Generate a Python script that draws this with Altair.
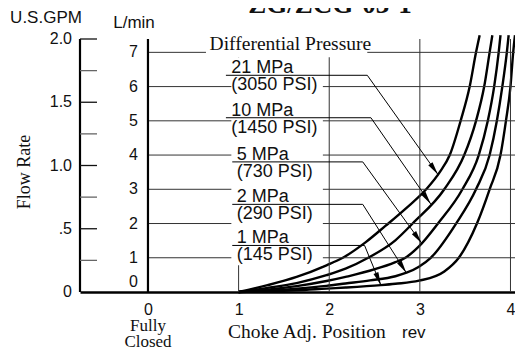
import math
import numpy as np
import pandas as pd
import altair as alt

# ---------------- data ----------------
rev_21 = [1.0, 1.32, 1.64, 1.97, 2.15, 2.4, 2.62, 2.85, 3.07, 3.22, 3.33, 3.45, 3.55, 3.62, 3.66]
flow_21 = [0, 0.2, 0.44, 0.78, 1.0, 1.45, 1.93, 2.45, 3.0, 3.5, 4.0, 5.0, 6.0, 7.0, 7.5]

rev_10 = [1.0, 1.32, 1.64, 1.97, 2.18, 2.43, 2.73, 2.92, 3.27, 3.49, 3.62, 3.71, 3.77, 3.80]
flow_10 = [0, 0.12, 0.26, 0.49, 0.68, 1, 1.51, 2, 3, 4, 5, 6, 7, 7.5]

rev_5 = [1.0, 1.32, 1.64, 1.97, 2.18, 2.73, 2.84, 2.99, 3.2, 3.47, 3.65, 3.75, 3.82, 3.87, 3.89]
flow_5 = [0, 0.07, 0.17, 0.32, 0.44, 0.87, 1, 1.33, 2, 3, 4, 5, 6, 7, 7.5]

rev_2 = [1.0, 1.32, 1.64, 1.97, 2.18, 2.45, 2.73, 2.86, 2.99, 3.12, 3.40, 3.62, 3.77, 3.85, 3.91, 3.96, 3.98]
flow_2 = [0, 0.04, 0.1, 0.18, 0.25, 0.34, 0.46, 0.57, 0.74, 1, 2, 3, 4, 5, 6, 7, 7.5]

rev_1 = [1.0, 1.32, 1.64, 1.97, 2.18, 2.57, 2.73, 2.99, 3.27, 3.43, 3.63, 3.77, 3.89, 3.95, 4.0, 4.03, 4.05]
flow_1 = [0, 0.02, 0.05, 0.1, 0.13, 0.2, 0.24, 0.33, 0.6, 1, 2, 3, 4, 5, 6, 7, 7.5]

pressure_mpa = ["21 MPa", "10 MPa", "5 MPa", "2 MPa", "1 MPa"]
pressure_psi = ["(3050 PSI)", "(1450 PSI)", "(730 PSI)", "(290 PSI)", "(145 PSI)"]
curve_revs = [rev_21, rev_10, rev_5, rev_2, rev_1]
curve_flows = [flow_21, flow_10, flow_5, flow_2, flow_1]

lmin_ticks = [0, 1, 2, 3, 4, 5, 6, 7]
gpm_labels = [0, 0.5, 1.0, 1.5, 2.0]
gpm_label_text = ["0", ".5", "1.0", "1.5", "2.0"]
gpm_ticks = [0.25, 0.5, 0.75, 1.0, 1.25, 1.5, 1.75, 2.0]
rev_ticks = [0, 1, 2, 3, 4]

# ---------------- layout ----------------
W, H = 435, 253
X_DOM = [-0.75, 4.05]
Y_DOM = [0, 7.39]
GPM_TOP = 2.0                       # the printed U.S.GPM scale reaches 2.0 at the top of the frame
GPM_TO_AXIS = Y_DOM[1] / GPM_TOP
SANS = "Liberation Sans"
SERIF = "Liberation Serif"
PX_PER_REV = W / (X_DOM[1] - X_DOM[0])
PX_PER_L = H / (Y_DOM[1] - Y_DOM[0])

# annotation placement (data units)
label_y = [6.33, 5.09, 3.80, 2.56, 1.36]        # underline level of each label pair
label_x = [0.92, 0.92, 0.98, 0.98, 0.98]        # left edge of label text
underline_x = [0.86, 0.86, 0.93, 0.93, 0.93]
leader_x = [2.42, 2.46, 2.37, 2.37, 2.39]       # where leader leaves the underline
tip_rev = [3.20, 3.12, 3.02, 2.85, 2.57]        # where the arrow touches its curve

xs = alt.Scale(domain=X_DOM, nice=False, zero=False, padding=0)
ys = alt.Scale(domain=Y_DOM, nice=False, zero=False, padding=0)

# ---------------- tables ----------------
rows = []
for name, rv, fl in zip(pressure_mpa, curve_revs, curve_flows):
    for i, (r, f) in enumerate(zip(rv, fl)):
        rows.append({"series": name, "rev": r, "flow": f, "i": i})
curves_df = pd.DataFrame(rows)

seg_rows, head_rows, lab_rows = [], [], []
for k in range(5):
    tf = float(np.interp(tip_rev[k], curve_revs[k], curve_flows[k]))
    seg_rows.append({"x": underline_x[k], "y": label_y[k], "x2": leader_x[k], "y2": label_y[k]})
    seg_rows.append({"x": leader_x[k], "y": label_y[k], "x2": tip_rev[k], "y2": tf})
    dxp = (tip_rev[k] - leader_x[k]) * PX_PER_REV
    dyp = (label_y[k] - tf) * PX_PER_L
    ang = (-math.degrees(math.atan2(dxp, dyp))) % 360
    head_rows.append({"x": tip_rev[k], "y": tf, "ang": ang})
    lab_rows.append({"x": label_x[k], "y": label_y[k], "mpa": pressure_mpa[k], "psi": pressure_psi[k]})
seg_df = pd.DataFrame(seg_rows)
lab_df = pd.DataFrame(lab_rows)

hgrid_df = pd.DataFrame({"x": [0.0] * 7, "x2": [X_DOM[1]] * 7, "y": lmin_ticks[1:]})
vgrid_df = pd.DataFrame({"x": rev_ticks[1:], "y": [0.0] * 4, "y2": [Y_DOM[1]] * 4})
axis_df = pd.DataFrame({"x": [0.0], "y": [0.0], "y2": [Y_DOM[1]]})
rect_df = pd.DataFrame({"x": [0.64, 0.92], "x2": [2.42, 1.93], "y": [6.86, 0.78], "y2": [7.39, 6.86]})
lmin_df = pd.DataFrame({"x": [0.0] * 7, "v": lmin_ticks[1:]})
lmin0_df = pd.DataFrame({"x": [0.0], "v": lmin_ticks[:1]})
gpm_df = pd.DataFrame({
    "pos": [g * GPM_TO_AXIS for g in gpm_ticks],
    "kind": ["major" if abs(g * 2 - round(g * 2)) < 1e-9 else "minor" for g in gpm_ticks],
})
gpm_lab_df = pd.DataFrame({"pos": [g * GPM_TO_AXIS for g in gpm_labels], "t": gpm_label_text})
diff_df = pd.DataFrame({"x": [0.68], "y": [7.08], "t": ["Differential Pressure"]})
one = pd.DataFrame({"a": [1]})

x_axis = alt.Axis(values=rev_ticks, ticks=False, grid=False, domain=True, domainColor="black",
                  domainWidth=2.5, labelFont=SANS, labelFontSize=16, labelColor="#111",
                  labelPadding=9, title=None, labelFlush=False, labelOverlap=False, format="d")


def Xq(f):
    return alt.X(f, type="quantitative", scale=xs, axis=x_axis)


def Yq(f):
    return alt.Y(f, type="quantitative", scale=ys, axis=None)


# ---------------- layers ----------------
curves = alt.Chart(curves_df).mark_line(color="black", strokeWidth=2.4, interpolate="monotone",
                                        clip=False).encode(
    x=Xq("rev"), y=Yq("flow"), detail="series:N", order="i:Q")
hgrid = alt.Chart(hgrid_df).mark_rule(color="#333", strokeWidth=1).encode(
    x=Xq("x"), x2=alt.X2("x2"), y=Yq("y"))
vgrid = alt.Chart(vgrid_df).mark_rule(color="#333", strokeWidth=1).encode(
    x=Xq("x"), y=Yq("y"), y2=alt.Y2("y2"))
rects = alt.Chart(rect_df).mark_rect(color="white").encode(
    x=Xq("x"), x2=alt.X2("x2"), y=Yq("y"), y2=alt.Y2("y2"))
lmin_axis = alt.Chart(axis_df).mark_rule(color="black", strokeWidth=2.2).encode(
    x=Xq("x"), y=Yq("y"), y2=alt.Y2("y2"))
gpm_axis_line = alt.Chart(one).mark_rule(color="black", strokeWidth=2.2).encode(
    x=alt.value(0), y=alt.value(0), y2=alt.value(H))
gpm_tick_marks = alt.Chart(gpm_df).mark_rule(strokeWidth=1.3).encode(
    x=alt.value(0), x2=alt.value(17), y=Yq("pos"),
    color=alt.Color("kind:N", scale=alt.Scale(domain=["major", "minor"], range=["#111", "#666"]),
                    legend=None))
gpm_tick_labels = alt.Chart(gpm_lab_df).mark_text(align="right", baseline="middle", font=SANS,
                                                  fontSize=16, color="#111").encode(
    x=alt.value(-8), y=Yq("pos"), text="t:N")
leaders = alt.Chart(seg_df).mark_rule(color="black", strokeWidth=1).encode(
    x=Xq("x"), x2=alt.X2("x2"), y=Yq("y"), y2=alt.Y2("y2"))
heads = [
    alt.Chart(pd.DataFrame([h])).mark_point(shape="M0,0L-0.4,-2L0.4,-2Z", filled=True, size=170,
                                            color="black", opacity=1, angle=round(h["ang"], 1)).encode(
        x=Xq("x"), y=Yq("y"))
    for h in head_rows
]
mpa_text = alt.Chart(lab_df).mark_text(align="left", baseline="alphabetic", dy=-2, font=SANS,
                                       fontSize=18, color="#111").encode(
    x=Xq("x"), y=Yq("y"), text="mpa:N")
psi_text = alt.Chart(lab_df).mark_text(align="left", baseline="alphabetic", dy=15, font=SANS,
                                       fontSize=18, color="#111").encode(
    x=Xq("x"), y=Yq("y"), text="psi:N")
diff_text = alt.Chart(diff_df).mark_text(align="left", baseline="alphabetic",
                                         font=SERIF, fontSize=19.5, color="#111").encode(
    x=Xq("x"), y=Yq("y"), text="t:N")
lmin_labels = alt.Chart(lmin_df).mark_text(align="right", baseline="middle", dx=-10, font=SANS,
                                           fontSize=16, color="#111").encode(
    x=Xq("x"), y=Yq("v"), text=alt.Text("v:Q", format="d"))
lmin_zero = alt.Chart(lmin0_df).mark_text(align="right", baseline="middle", dx=-10, dy=-10, font=SANS,
                                          fontSize=16, color="#111").encode(
    x=Xq("x"), y=Yq("v"), text=alt.Text("v:Q", format="d"))


def ptext(txt, x, y, font=SANS, size=16, align="center", baseline="alphabetic", angle=0, weight="normal"):
    kw = dict(font=font, fontSize=size, align=align, baseline=baseline,
              color="#111", fontWeight=weight)
    if angle:
        kw["angle"] = angle
    return alt.Chart(pd.DataFrame({"t": [txt]})).mark_text(**kw).encode(
        x=alt.value(x), y=alt.value(y), text="t:N")


texts = [
    ptext("ZG/ZCG-03-1", 250, -26, font=SERIF, size=27, weight="bold"),
    ptext("U.S.GPM", -34, -16, size=17),
    ptext("L/min", 54, -11, size=17),
    ptext("Flow Rate", -55, 133, font=SERIF, size=18, baseline="middle", angle=270),
    ptext("Fully", 68, 292, font=SERIF, size=17),
    ptext("Closed", 68, 308, font=SERIF, size=17),
    ptext("Choke Adj. Position", 148, 299, font=SERIF, size=19.5, align="left"),
    ptext("rev", 322, 299, size=17, align="left"),
]

chart = alt.layer(
    curves, hgrid, vgrid, rects, lmin_axis, gpm_axis_line, gpm_tick_marks, gpm_tick_labels,
    leaders, *heads, mpa_text, psi_text, diff_text, lmin_labels, lmin_zero, *texts
).properties(
    width=W, height=H,
    autosize=alt.AutoSizeParams(type="none"),
    padding={"left": 72, "top": 31, "right": 0, "bottom": 55},
).configure_view(stroke=None)

chart.save("out.html", embed_options={"renderer": "svg", "actions": False})
